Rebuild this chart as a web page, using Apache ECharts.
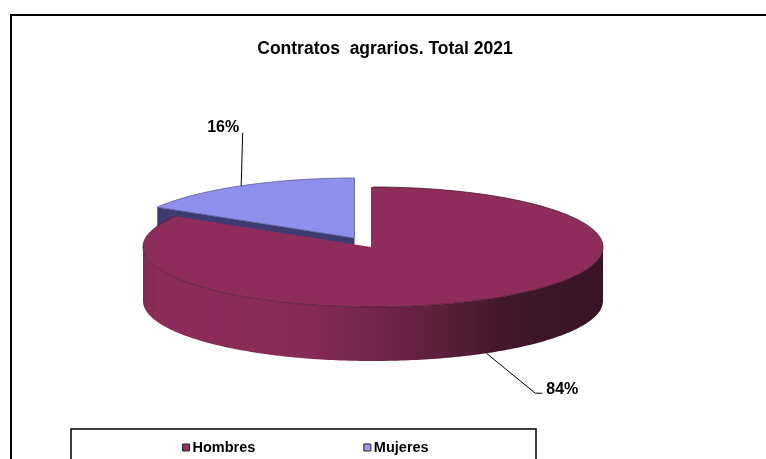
<!DOCTYPE html>
<html>
<head>
<meta charset="utf-8">
<style>html,body{margin:0;padding:0;background:#fff;overflow:hidden}#c{width:766px;height:459px}</style>
<script src="https://cdn.jsdelivr.net/npm/echarts@6/dist/echarts.min.js"></script>
</head>
<body>
<div id="c"></div>
<script>
const titleText = 'Contratos  agrarios. Total 2021';
const categories = ['Hombres', 'Mujeres'];
const values = [83.6, 16.4];
const colors = ['#8e2c5b', '#8f8fec'];
const legendColors = ['#993366', '#9999ff'];

const FONT = '"Liberation Sans", Arial, sans-serif';
const total = values[0] + values[1];
const RX = 230, RY = 60, DEPTH = 54;
const RAD = Math.PI / 180;
const pt = (cx, cy, deg, dy) => [cx + RX * Math.sin(deg * RAD), cy - RY * Math.cos(deg * RAD) + (dy || 0)];
function arc(cx, cy, a, b, dy) {
  const out = [];
  for (let d = a; d < b; d += 1) out.push(pt(cx, cy, d, dy));
  out.push(pt(cx, cy, b, dy));
  return out;
}
function labelOf(v) { return Math.round(v / total * 100) + '%'; }

function renderHombres(params, api) {
  const v = api.value(0);
  const cx = 373, cy = 247;
  const end = v / total * 360;
  const rim = arc(cx, cy, 0, end);
  const top = [[cx - 2, cy], [cx - 2, cy - RY]].concat(rim);
  const front = arc(cx, cy, 90, 270);
  const side = front.concat(arc(cx, cy, 90, 270, DEPTH).reverse());
  const mid = end / 2;
  const a = pt(cx, cy, mid, DEPTH);
  const grad = new echarts.graphic.LinearGradient(0, 0, 1, 0, [
    { offset: 0, color: '#802852' },
    { offset: 0.03, color: '#8c2c5a' },
    { offset: 0.35, color: '#852a56' },
    { offset: 0.5, color: '#74264b' },
    { offset: 0.65, color: '#5a1f3c' },
    { offset: 0.78, color: '#41172b' },
    { offset: 1, color: '#391426' }
  ]);
  return {
    type: 'group',
    children: [
      { type: 'polygon', shape: { points: side }, style: { fill: grad, stroke: null } },
      { type: 'polygon', shape: { points: top }, style: { fill: colors[0], stroke: null } },
      { type: 'polyline', shape: { points: rim }, style: { fill: null, stroke: '#4a1a30', lineWidth: 0.8 } },
      { type: 'polyline', shape: { points: [a, [a[0] + 49, a[1] + 40], [a[0] + 56, a[1] + 40]] }, style: { fill: null, stroke: '#000', lineWidth: 1 } },
      { type: 'text', x: a[0] + 60, y: a[1] + 36, style: { text: labelOf(v), font: 'bold 16px ' + FONT, fill: '#000', verticalAlign: 'middle', align: 'left' } }
    ]
  };
}

function renderMujeres(params, api) {
  const v = api.value(0);
  const cx = 354.5, cy = 238;
  const start = 360 - v / total * 360;
  const top = [[cx, cy]].concat(arc(cx, cy, start, 360));
  const tip = pt(cx, cy, start);
  const face = [[cx, cy], tip, [tip[0], tip[1] + DEPTH], [cx, cy + DEPTH]];
  const a = pt(cx, cy, (start + 360) / 2);
  return {
    type: 'group',
    children: [
      { type: 'polygon', shape: { points: face }, style: { fill: '#3c3c70', stroke: null } },
      { type: 'polygon', shape: { points: top }, style: { fill: colors[1], stroke: '#5c5c98', lineWidth: 0.8 } },
      { type: 'polyline', shape: { points: [a, [a[0] + 1.5, a[1] - 53]] }, style: { fill: null, stroke: '#000', lineWidth: 1 } },
      { type: 'text', x: a[0] - 2, y: a[1] - 58, style: { text: labelOf(v), font: 'bold 16px ' + FONT, fill: '#000', verticalAlign: 'middle', align: 'right' } }
    ]
  };
}

const chart = echarts.init(document.getElementById('c'), null, { renderer: 'canvas' });
chart.setOption({
  animation: false,
  backgroundColor: '#fff',
  title: {
    text: titleText, left: 385, top: 40, textAlign: 'center', padding: 0,
    textStyle: { fontFamily: FONT, fontSize: 17.5, fontWeight: 'bold', color: '#000' }
  },
  legend: {
    data: categories, left: 182, top: 440, padding: 0, itemWidth: 7, itemHeight: 7, itemGap: 108,
    icon: 'rect', selectedMode: false,
    itemStyle: { borderColor: '#222', borderWidth: 1 },
    textStyle: { fontFamily: FONT, fontSize: 14.5, fontWeight: 'bold', color: '#000', padding: [0, 0, 0, -2] }
  },
  graphic: [
    { type: 'rect', shape: { x: 11, y: 15, width: 900, height: 600 }, style: { fill: null, stroke: '#000', lineWidth: 2 }, silent: true },
    { type: 'rect', shape: { x: 71, y: 429, width: 465, height: 60 }, style: { fill: null, stroke: '#000', lineWidth: 1.5 }, silent: true }
  ],
  series: [
    { type: 'custom', name: categories[1], coordinateSystem: 'none', renderItem: renderMujeres, data: [[values[1]]], itemStyle: { color: legendColors[1] }, silent: true, z: 2 },
    { type: 'custom', name: categories[0], coordinateSystem: 'none', renderItem: renderHombres, data: [[values[0]]], itemStyle: { color: legendColors[0] }, silent: true, z: 3 }
  ]
});
</script>
</body>
</html>
